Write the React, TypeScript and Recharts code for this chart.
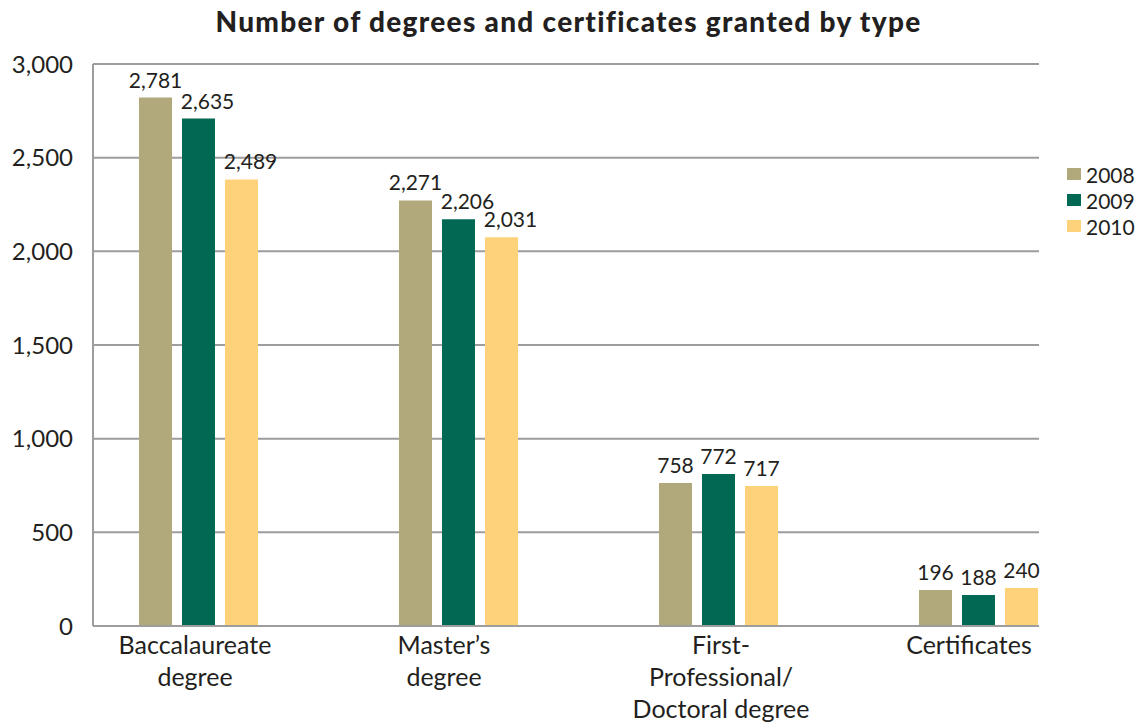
import { Bar, BarChart, CartesianGrid, LabelList, XAxis, YAxis } from 'recharts'

const CATEGORY_LINES = [
  ['Baccalaureate', 'degree'],
  ['Master’s', 'degree'],
  ['First-', 'Professional/', 'Doctoral degree'],
  ['Certificates'],
]
const YEARS = ['2008', '2009', '2010']

// bar heights as drawn in the picture
const BARS_2008 = [2821, 2272, 763, 192]
const BARS_2009 = [2709, 2171, 811, 165]
const BARS_2010 = [2384, 2075, 747, 203]

// numbers printed over the bars
const LABELS_2008 = [2781, 2271, 758, 196]
const LABELS_2009 = [2635, 2206, 772, 188]
const LABELS_2010 = [2489, 2031, 717, 240]

const Y_TICKS = [0, 500, 1000, 1500, 2000, 2500, 3000]
const COLORS = ['#b1a97b', '#006853', '#fdd27a']

const TEXT = '#231f20'
const GRID = '#9d9d9d'
// the source sets its category names a little off the group centres
const TICK_SHIFT = [-4, -15, 2, -10]

const data = CATEGORY_LINES.map((_, i) => ({
  pos: i,
  b2008: BARS_2008[i],
  b2009: BARS_2009[i],
  b2010: BARS_2010[i],
  l2008: LABELS_2008[i],
  l2009: LABELS_2009[i],
  l2010: LABELS_2010[i],
}))

const fmt = (v: number) => v.toLocaleString('en-US')

function CategoryTick({ x, y, payload }: any) {
  const lines = CATEGORY_LINES[payload.value] ?? []
  const tx = x + (TICK_SHIFT[payload.value] ?? 0)
  return (
    <text x={tx} y={y} textAnchor="middle" fontSize={25} fill={TEXT}>
      {lines.map((l, i) => (
        <tspan key={i} x={tx} dy={i === 0 ? 20 : 32}>{l}</tspan>
      ))}
    </text>
  )
}

const makeLabel = (series: number) => (props: any) => {
  const { x, y, width, value } = props
  // long labels on the 2nd/3rd bar are pushed right so they clear their neighbour
  const dx = series > 0 && value >= 1000 ? 9 : 0
  return (
    <text x={x + width / 2 + dx} y={y - 10} textAnchor="middle" fontSize={21} fill={TEXT}>
      {fmt(value)}
    </text>
  )
}

export default function App() {
  return (
    <div style={{ position: 'absolute', left: 0, top: 0, width: 1143, height: 726, fontFamily: 'Lato, sans-serif', background: '#fff' }}>
      <div
        style={{
          position: 'absolute', left: -3, top: 6, width: 1143, textAlign: 'center',
          fontSize: 28, lineHeight: '30px', fontWeight: 900, letterSpacing: 1.3, color: TEXT,
        }}
      >
        Number of degrees and certificates granted by type
      </div>

      <BarChart
        width={1143}
        height={726}
        data={data}
        margin={{ top: 64, right: 104, bottom: 10, left: 13 }}
        barSize={33}
        barGap={10}
      >
        <CartesianGrid vertical={false} stroke={GRID} strokeWidth={2} />
        <XAxis
          type="number"
          dataKey="pos"
          domain={[-0.4077, 3.2308]}
          ticks={[0, 1, 2, 3]}
          interval={0}
          height={90}
          tickLine={false}
          axisLine={{ stroke: GRID, strokeWidth: 2 }}
          tick={<CategoryTick />}
        />
        <YAxis
          domain={[0, 3000]}
          ticks={Y_TICKS}
          width={80}
          tickLine={false}
          tickMargin={14}
          tickFormatter={fmt}
          axisLine={{ stroke: GRID, strokeWidth: 2 }}
          tick={{ fontSize: 24, fill: TEXT }}
        />
        {['b2008', 'b2009', 'b2010'].map((key, s) => (
          <Bar key={key} dataKey={key} fill={COLORS[s]} isAnimationActive={false}>
            <LabelList dataKey={`l${YEARS[s]}`} content={makeLabel(s)} />
          </Bar>
        ))}
      </BarChart>

      <div style={{ position: 'absolute', left: 1067, top: 161 }}>
        {YEARS.map((yr, i) => (
          <div key={yr} style={{ display: 'flex', alignItems: 'center', height: 26, fontSize: 21, color: TEXT }}>
            <span style={{ width: 14, height: 12, background: COLORS[i], marginRight: 5 }} />
            {yr}
          </div>
        ))}
      </div>
    </div>
  )
}
